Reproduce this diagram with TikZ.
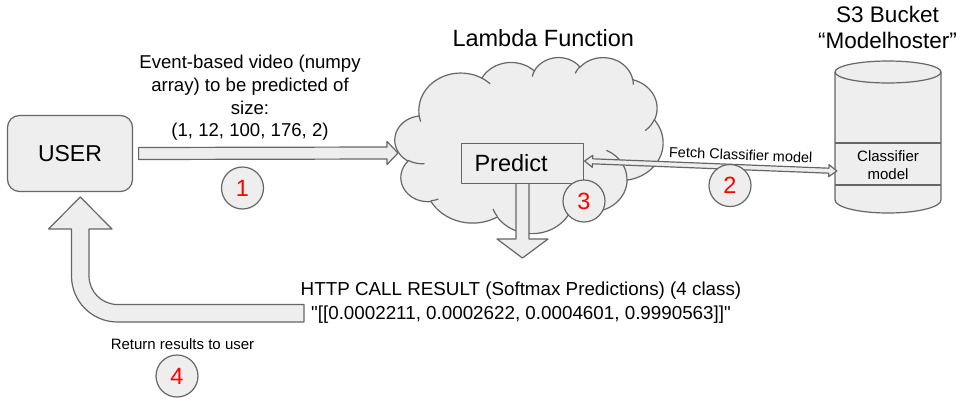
\documentclass[tikz,border=0pt]{standalone}
\usepackage{fontspec}
\setmainfont{Liberation Sans}
\newfontfamily\plainsans{Liberation Sans}
\usetikzlibrary{calc}
\definecolor{fillgray}{HTML}{EEEEEE}
\definecolor{strokegray}{HTML}{666666}
\definecolor{numred}{HTML}{FF0000}

% cloud path builder (OOXML-style arcTo, angles in degrees, sweeps positive)
\newcommand\cldinit[2]{\xdef\cldX{#1}\xdef\cldY{#2}\xdef\cldpath{(#1,#2)}}
\newcommand\cldarc[4]{%
  \pgfmathsetmacro\cldta{atan2((#1)*sin(#3),(#2)*cos(#3))}%
  \pgfmathsetmacro\cldtb{atan2((#1)*sin((#3)+(#4)),(#2)*cos((#3)+(#4)))}%
  \pgfmathsetmacro\cldd{\cldtb-\cldta}%
  \pgfmathsetmacro\cldd{(\cldd<0)?(\cldd+360):(\cldd)}%
  \pgfmathsetmacro\cldcx{\cldX-(#1)*cos(\cldta)}%
  \pgfmathsetmacro\cldcy{\cldY-(#2)*sin(\cldta)}%
  \pgfmathsetmacro\cldte{\cldta+\cldd}%
  \pgfmathsetmacro\cldnx{\cldcx+(#1)*cos(\cldte)}%
  \pgfmathsetmacro\cldny{\cldcy+(#2)*sin(\cldte)}%
  \xdef\cldX{\cldnx}\xdef\cldY{\cldny}%
  \xdef\cldpath{\unexpanded\expandafter{\cldpath} -- plot[domain=\cldta:\cldte,samples=30,variable=\noexpand\t] ({\cldcx+#1*cos(\noexpand\t)},{\cldcy+#2*sin(\noexpand\t)})}%
}
\newcommand\cldinner[6]{%
  \pgfmathsetmacro\cldta{atan2((#3)*sin(#5),(#4)*cos(#5))}%
  \pgfmathsetmacro\cldtb{atan2((#3)*sin((#5)+(#6)),(#4)*cos((#5)+(#6)))}%
  \pgfmathsetmacro\cldd{\cldtb-\cldta}%
  \pgfmathsetmacro\cldd{(\cldd<0)?(\cldd+360):(\cldd)}%
  \pgfmathsetmacro\cldcx{#1-(#3)*cos(\cldta)}%
  \pgfmathsetmacro\cldcy{#2-(#4)*sin(\cldta)}%
  \pgfmathsetmacro\cldte{\cldta+\cldd}%
  \xdef\cldinpath{\unexpanded\expandafter{\cldinpath} plot[domain=\cldta:\cldte,samples=16,variable=\noexpand\t] ({\cldcx+#3*cos(\noexpand\t)},{\cldcy+#4*sin(\noexpand\t)})}%
}

\tikzset{
  shp/.style={draw=strokegray, fill=fillgray, line width=1.2pt, line join=round},
  ln/.style={draw=strokegray, line width=1.2pt},
  numc/.style={circle, draw=strokegray, fill=fillgray, line width=1.2pt, minimum size=42pt, inner sep=0pt, text=numred, font=\fontsize{23.5}{27}\selectfont},
  txt/.style={inner sep=0pt, text=black}
}

\begin{document}
\begin{tikzpicture}[x=1pt,y=-1pt]
\fill[white] (0,0) rectangle (968,402);
\useasboundingbox (0,0) rectangle (968,402);

% ---------- cloud (Lambda) ----------
\cldinit{39.00}{143.70}
\cldarc{67.53}{91.90}{-190.487483}{123.780533}
\cldarc{53.33}{72.67}{-144.102383}{89.945233}
\cldarc{43.65}{59.45}{-145.807917}{99.723017}
\cldarc{48.57}{65.95}{-130.986067}{117.241733}
\cldarc{53.33}{72.73}{-78.708883}{109.026917}
\cldarc{67.75}{92.20}{-46.26725}{130.269}
\cldarc{57.85}{78.67}{0.625017}{114.033333}
\cldarc{67.52}{92.15}{22.4516}{115.17255}
\cldarc{77.20}{105.43}{66.242633}{75.711017}
\cldarc{43.60}{59.18}{-274.942083}{146.735567}
\cldarc{43.45}{59.45}{-246.8285}{152.51885}
\gdef\cldinpath{}
\cldinner{46.93}{261.77}{43.45}{59.45}{86.742}{26.4295}
\cldinner{69.28}{348.99}{43.60}{59.18}{73.610467}{11.447467}
\cldinner{164.78}{390.90}{67.52}{92.15}{137.62415}{14.0811}
\cldinner{288.27}{347.51}{67.52}{92.15}{6.453267}{15.99835}
\cldinner{341.29}{229.54}{57.85}{78.67}{-70.29235}{70.917367}
\cldinner{417.98}{153.54}{53.33}{72.73}{30.318033}{27.7515}
\cldinner{383.24}{54.26}{48.57}{65.95}{-13.744333}{14.8589}
\cldinner{290.78}{39.52}{48.57}{65.95}{-149.18145}{18.195367}
\cldinner{221.41}{47.20}{43.65}{59.45}{-163.494267}{17.68635}
\cldinner{140.00}{51.92}{67.53}{91.90}{-66.70695}{12.31935}
\cldinner{41.27}{157.89}{67.53}{91.90}{157.65435}{11.858167}
\begin{scope}[shift={(395,57)},x=0.6204pt,y=-0.4074pt]
  \edef\cldcmd{\noexpand\path[shp] \unexpanded\expandafter{\cldpath} -- cycle;}\cldcmd
  \edef\cldcmd{\noexpand\draw[ln, line cap=round] \unexpanded\expandafter{\cldinpath};}\cldcmd
\end{scope}

% ---------- titles ----------
\node[txt, anchor=base, font=\fontsize{23.5}{28}\selectfont] (lamlbl) at (543.3,46.7) {Lambda Function};
\node[txt, align=center, anchor=north, font=\fontsize{22.5}{25.6}\selectfont] (s3lbl) at (887.5,6.3) {S3 Bucket\\“Modelhoster”};

% ---------- USER ----------
\node[shp, rounded corners=12pt, minimum width=125pt, minimum height=76pt, text height=16.5pt, text depth=0pt, font=\fontsize{23}{28}\selectfont] (user) at (70,153.5) {USER};

% ---------- arrow 1 ----------
\coordinate (a1s) at ($(user.east)+(5.5,0)$);
\coordinate (a1e) at (398,153);
\path[shp] ($(a1s)+(0,-6)$) -- ($(a1e)+(-11,-6)$) -- ($(a1e)+(-11,-11.5)$) -- (a1e)
  -- ($(a1e)+(-11,11.5)$) -- ($(a1e)+(-11,6)$) -- ($(a1s)+(0,6)$) -- cycle;
\node[txt, align=center, anchor=north, font=\fontsize{18.6}{22.9}\selectfont] (evt) at (250,54.6)
  {Event-based video (numpy\\array) to be predicted of\\size:\\(1, 12, 100, 176, 2)};

% ---------- Predict + down arrow ----------
\coordinate (pcen) at (522.5,163.5);
\coordinate (d1e) at (522.5,258);
\path[shp] ($(pcen)+(-6.5,20)$) -- ($(d1e)+(-6.5,-19)$) -- ($(d1e)+(-25.5,-19)$) -- (d1e)
  -- ($(d1e)+(25.5,-19)$) -- ($(d1e)+(6.5,-19)$) -- ($(pcen)+(6.5,20)$);
\node[shp, minimum width=122pt, minimum height=40pt, text width=96pt, inner xsep=13pt, align=left,
  text height=16.8pt, text depth=0pt, font=\fontsize{23.5}{28}\selectfont] (predict) at (pcen) {Predict};

% ---------- S3 cylinder ----------
\path[shp] (835,72) -- (835,200) .. controls (835,207.18) and (858.73,213) .. (888,213)
  .. controls (917.27,213) and (941,207.18) .. (941,200) -- (941,72)
  .. controls (941,65.92) and (917.27,61) .. (888,61)
  .. controls (858.73,61) and (835,65.92) .. (835,72) -- cycle;
\draw[ln] (835,72) .. controls (835,78.08) and (858.73,83) .. (888,83)
  .. controls (917.27,83) and (941,78.08) .. (941,72);
\draw[ln] (835,143) -- (941,143);
\draw[ln] (835,185) -- (941,185);
\node[txt, align=center, minimum width=106pt, font=\fontsize{15}{17.6}\selectfont] (cm) at (888,165) {Classifier\\model};

% ---------- fetch arrow ----------
\coordinate (fa) at ($(predict.east)+(0.5,-2.5)$);
\coordinate (fb) at ($(cm.west)+(2,6)$);
\coordinate (fa1) at ($(fa)!8pt!(fb)$);
\coordinate (fb1) at ($(fb)!8pt!(fa)$);
\path[shp] (fa) -- ($(fa1)!6pt!90:(fb)$) -- ($(fa1)!2.5pt!90:(fb)$) -- ($(fb1)!2.5pt!-90:(fa)$)
  -- ($(fb1)!6pt!-90:(fa)$) -- (fb) -- ($(fb1)!6pt!90:(fa)$) -- ($(fb1)!2.5pt!90:(fa)$)
  -- ($(fa1)!2.5pt!-90:(fb)$) -- ($(fa1)!6pt!-90:(fb)$) -- cycle;
\node[txt, anchor=base, rotate=-2.27, font=\fontsize{14.5}{17}\selectfont] (fetchlbl) at (740.5,160) {Fetch Classifier model};

% ---------- return arrow ----------
\path[shp] (304,304.5) -- (117.5,304.5) .. controls (101.76,304.5) and (89,291.74) .. (89,276)
  -- (89,229) -- (112,229) -- (80.25,197) -- (48.5,229) -- (71.5,229) -- (71.5,276)
  .. controls (71.5,301.4) and (92.1,322) .. (117.5,322) -- (304,322) -- cycle;
\node[txt, align=center, anchor=north, font=\plainsans\fontsize{18.8}{24}\selectfont] (http) at (521,281.3)
  {HTTP CALL RESULT (Softmax Predictions) (4 class)\\"[[0.0002211, 0.0002622, 0.0004601, 0.9990563]]"};
\node[txt, anchor=base, font=\fontsize{15}{18}\selectfont] (retlbl) at (182.5,349.3) {Return results to user};

% ---------- step circles ----------
\node[numc] (n1) at (242.5,188) {1};
\node[numc] (n2) at (730,185.5) {2};
\node[numc] (n3) at (584,201) {3};
\node[numc] (n4) at (177,376) {4};
\end{tikzpicture}
\end{document}
